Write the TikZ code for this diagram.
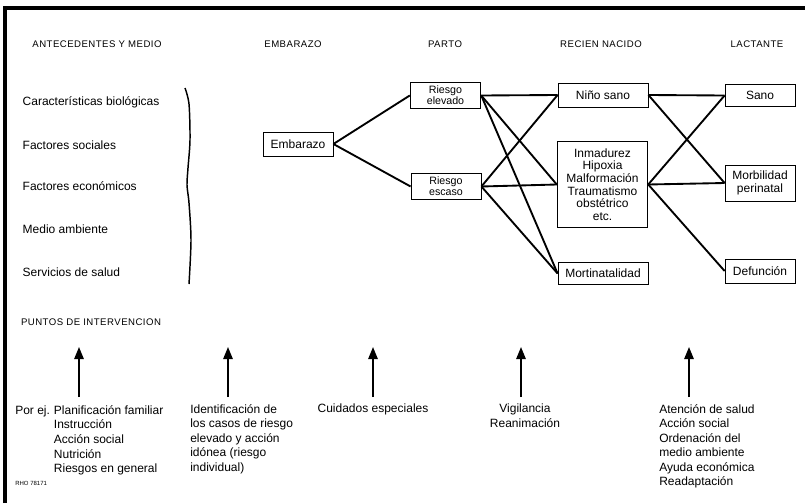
\documentclass[tikz,border=0pt]{standalone}
\usepackage{fontspec}
\setmainfont{Liberation Sans}
\newfontfamily\headfont[LetterSpace=5]{Liberation Sans}
\usetikzlibrary{arrows.meta}

\tikzset{
  caja/.style={draw, line width=0.6pt, inner sep=1pt, align=center,
    font=\fontsize{9}{9.4}\selectfont},
  riesgo/.style={caja, font=\fontsize{8}{8}\selectfont},
  titulo/.style={font=\headfont\fontsize{7.2}{8}\selectfont},
  factor/.style={anchor=west, font=\fontsize{9}{10}\selectfont},
  accion/.style={anchor=north, align=left, inner sep=0pt,
    font=\fontsize{9}{10.9}\selectfont},
  enlace/.style={line width=1.4pt},
  punto/.style={-{Triangle[width=7pt,length=9pt]}, line width=1.3pt}
}

\begin{document}
\begin{tikzpicture}[x=0.75pt,y=-0.75pt]
  \useasboundingbox (0,0) rectangle (805,503);
  \draw[line width=2.4pt] (5,503) -- (5,8) -- (805,8);

  % column heads
  \node (hant)  at (97,44)  [titulo] {ANTECEDENTES Y MEDIO};
  \node (hemb)  at (293,44) [titulo] {EMBARAZO};
  \node (hpar)  at (445,44) [titulo] {PARTO};
  \node (hrec)  at (601,44) [titulo] {RECIEN NACIDO};
  \node (hlac)  at (757,44) [titulo] {LACTANTE};

  \node (fbio)  at (18,102) [factor] {Características biológicas};
  \node (fsoc)  at (18,145) [factor] {Factores sociales};
  \node (feco)  at (18,186) [factor] {Factores económicos};
  \node (fmed)  at (18,229) [factor] {Medio ambiente};
  \node (fser)  at (18,272) [factor] {Servicios de salud};
  \draw[line width=1.1pt] plot[smooth] coordinates
    {(185,88) (189,104) (190,140) (188,168) (187,185) (189,203) (191,240) (189,284)};

  \node (emb)    at (298,144)   [caja, minimum width=52.5pt, minimum height=18pt] {Embarazo};
  \node (relev)  at (445.5,95.5) [riesgo, minimum width=53pt, minimum height=19pt] {Riesgo\\elevado};
  \node (resc)   at (446,186.5) [riesgo, minimum width=52.5pt, minimum height=19pt] {Riesgo\\escaso};
  \node (nsano)  at (603,95)    [caja, minimum width=67.5pt, minimum height=18pt] {Niño sano};
  \node (lesion) at (602.5,184.5) [caja, minimum width=68pt, minimum height=64pt]
    {Inmadurez\\Hipoxia\\Malformación\\Traumatismo\\obstétrico\\etc.};
  \node (mortin) at (603,273.5) [caja, minimum width=67.5pt, minimum height=17pt] {Mortinatalidad};
  \node (sano)   at (760,95.5)  [caja, minimum width=52.5pt, minimum height=17pt] {Sano};
  \node (morb)   at (760,183)   [caja, minimum width=52.5pt, minimum height=27pt] {Morbilidad\\perinatal};
  \node (defun)  at (760,271)   [caja, minimum width=52.5pt, minimum height=18pt] {Defunción};

  \draw[enlace] (emb.east) -- (relev.west);
  \draw[enlace] (emb.east) -- (resc.west);
  \draw[enlace] (relev.east) -- (nsano.west);
  \draw[enlace] (relev.east) -- (lesion.west);
  \draw[enlace] (relev.east) -- (mortin.west);
  \draw[enlace] (resc.east) -- (nsano.west);
  \draw[enlace] (resc.east) -- (lesion.west);
  \draw[enlace] (resc.east) -- (mortin.west);
  \draw[enlace] (nsano.east) -- (sano.west);
  \draw[enlace] (nsano.east) -- (morb.west);
  \draw[enlace] (lesion.east) -- (sano.west);
  \draw[enlace] (lesion.east) -- (morb.west);
  \draw[enlace] (lesion.east) -- (defun.west);

  % intervention points
  \node (hpun) at (91,322) [titulo] {PUNTOS DE INTERVENCION};
  \foreach \n/\x in {1/79,2/228,3/373,4/521,5/689} {
    \coordinate (pie\n) at (\x,397);
    \coordinate (tope\n) at (\x,347);
    \draw[punto] (pie\n) -- (tope\n);
  }

  \node (plan) at (15,404) [accion, anchor=north west]
    {\begin{tabular}{@{}l@{\hspace{3pt}}l@{}}
      Por ej. & Planificación familiar\\
              & Instrucción\\
              & Acción social\\
              & Nutrición\\
              & Riesgos en general
     \end{tabular}};
  \node (codigo) at (15,483) [anchor=west, font=\fontsize{4.5}{5}\selectfont, inner sep=0pt] {RHO 78171};
  \node (ident) at (190,404) [accion, anchor=north west]
    {Identificación de\\los casos de riesgo\\elevado y acción\\idónea (riesgo\\individual)};
  \node (cuid) at (373,404) [accion, align=center] {Cuidados especiales};
  \node (vigi) at (525,404) [accion, align=center] {Vigilancia\\Reanimación};
  \node (aten) at (659,404) [accion, anchor=north west]
    {Atención de salud\\Acción social\\Ordenación del\\medio ambiente\\Ayuda económica\\Readaptación};
\end{tikzpicture}
\end{document}
